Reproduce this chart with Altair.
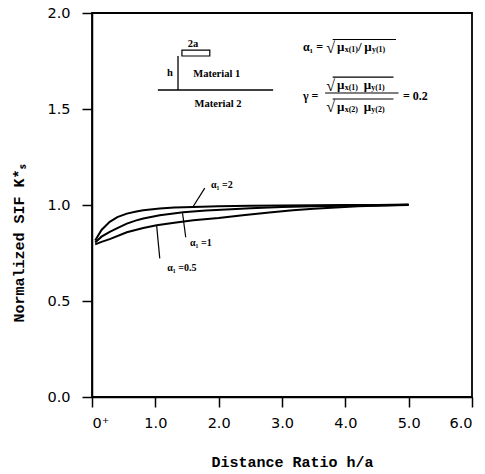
import altair as alt
import pandas as pd

# ---- curve data ----
x_a2 = [0.05, 0.15, 0.28, 0.40, 0.55, 0.70, 0.81, 1.07, 1.30, 1.60, 2.00, 2.50, 3.00, 3.50, 4.00, 4.50, 5.00]
y_a2 = [0.815, 0.870, 0.912, 0.937, 0.955, 0.966, 0.973, 0.982, 0.987, 0.990, 0.993, 0.996, 0.998, 0.999, 1.000, 1.000, 1.002]

x_a1 = [0.05, 0.15, 0.28, 0.40, 0.55, 0.70, 0.81, 1.07, 1.44, 1.80, 2.12, 2.50, 3.00, 3.50, 4.00, 4.50, 5.00]
y_a1 = [0.805, 0.835, 0.860, 0.880, 0.903, 0.920, 0.930, 0.947, 0.962, 0.971, 0.977, 0.983, 0.989, 0.993, 0.996, 0.998, 1.001]

x_a05 = [0.05, 0.15, 0.28, 0.55, 0.81, 1.02, 1.30, 1.60, 2.00, 2.38, 2.80, 3.17, 3.50, 4.20, 4.60, 5.00]
y_a05 = [0.795, 0.808, 0.822, 0.858, 0.880, 0.895, 0.908, 0.920, 0.932, 0.947, 0.961, 0.973, 0.980, 0.994, 0.998, 1.000]

x_ticks = [0, 1, 2, 3, 4, 5, 6]
y_ticks = [0.0, 0.5, 1.0, 1.5, 2.0]

rows = []
for name, xs_, ys_ in [("a2", x_a2, y_a2), ("a1", x_a1, y_a1), ("a05", x_a05, y_a05)]:
    for xv, yv in zip(xs_, ys_):
        rows.append({"series": name, "x": xv, "y": yv})
curves = pd.DataFrame(rows)

# ---- annotations ----
curve_labels = ["α₁ =2", "α₁ =1", "α₁ =0.5"]
curve_label_x = [2.05, 1.72, 1.42]
curve_label_y = [1.104, 0.80, 0.67]
leader_x1 = [1.78, 1.43, 1.02]
leader_y1 = [1.088, 0.957, 0.895]
leader_x2 = [1.59, 1.48, 1.07]
leader_y2 = [0.988, 0.832, 0.722]

# inset diagram texts
inset_text = ["2a", "h", "Material  1", "Material  2"]
inset_x = [1.595, 1.23, 1.97, 1.99]
inset_y = [1.839, 1.688, 1.682, 1.526]

# inset diagram lines (segments)
seg_x1 = [1.358, 1.04]
seg_y1 = [1.776, 1.599]
seg_x2 = [1.358, 2.86]
seg_y2 = [1.599, 1.599]

# formula pieces: main glyphs
f_text = ["α₁ =", "√", "μ", "/", "μ", "γ =", "√", "μ", "μ", "√", "μ", "μ", "= 0.2"]
f_x = [3.33, 3.70, 3.87, 4.20, 4.30, 3.33, 3.70, 3.87, 4.29, 3.70, 3.87, 4.29, 4.91]
f_y = [1.823, 1.818, 1.823, 1.823, 1.823, 1.568, 1.622, 1.625, 1.625, 1.508, 1.510, 1.510, 1.568]
f_size = [12, 16, 13, 13, 13, 12, 16, 13, 13, 16, 13, 13, 12]
# subscripts
s_text = ["x(1)", "y(1)", "x(1)", "y(1)", "x(2)", "y(2)"]
s_x = [3.99, 4.42, 3.99, 4.41, 3.99, 4.41]
s_y = [1.808, 1.808, 1.610, 1.610, 1.495, 1.495]
# overlines / fraction bar
o_x1 = [3.80, 3.80, 3.80, 3.68]
o_x2 = [4.80, 4.76, 4.76, 4.84]
o_y = [1.862, 1.666, 1.552, 1.583]

xs = alt.Scale(domain=[0, 6], nice=False, zero=False)
ys = alt.Scale(domain=[0, 2], nice=False, zero=False)

base = alt.Chart(curves)

lines = base.mark_line(color="black", strokeWidth=2).encode(
    x=alt.X("x:Q", scale=xs,
            axis=alt.Axis(values=x_ticks, title="Distance Ratio  h/a",
                          labelExpr="datum.value == 0 ? '0⁺' : format(datum.value, '.1f')",
                          labelPadding=9,
                          titleX=200, titleY=64, titleBaseline="middle", titleAlign="center")),
    y=alt.Y("y:Q", scale=ys,
            axis=alt.Axis(values=y_ticks, title="Normalized SIF  K*ₛ", format=".1f",
                          labelPadding=12,
                          titleX=-74, titleY=230, titleBaseline="middle", titleAlign="center")),
    detail="series:N",
)

lab_df = pd.DataFrame({"t": curve_labels, "x": curve_label_x, "y": curve_label_y})
labs = alt.Chart(lab_df).mark_text(font="Liberation Serif", fontWeight="bold", fontSize=10,
                                   color="black").encode(
    x=alt.X("x:Q", scale=xs), y=alt.Y("y:Q", scale=ys), text="t:N")

lead_df = pd.DataFrame({"x": leader_x1, "y": leader_y1, "x2": leader_x2, "y2": leader_y2})
leads = alt.Chart(lead_df).mark_rule(color="black", strokeWidth=1.2).encode(
    x=alt.X("x:Q", scale=xs), y=alt.Y("y:Q", scale=ys), x2="x2:Q", y2="y2:Q")

inset_df = pd.DataFrame({"t": inset_text, "x": inset_x, "y": inset_y})
inset = alt.Chart(inset_df).mark_text(font="Liberation Serif", fontWeight="bold", fontSize=10.5,
                                      color="black").encode(
    x=alt.X("x:Q", scale=xs), y=alt.Y("y:Q", scale=ys), text="t:N")

seg_df = pd.DataFrame({"x": seg_x1, "y": seg_y1, "x2": seg_x2, "y2": seg_y2})
segs = alt.Chart(seg_df).mark_rule(color="black", strokeWidth=1.3).encode(
    x=alt.X("x:Q", scale=xs), y=alt.Y("y:Q", scale=ys), x2="x2:Q", y2="y2:Q")

crack_df = pd.DataFrame({"x": [1.42], "x2": [1.86], "y": [1.807], "y2": [1.776]})
crack = alt.Chart(crack_df).mark_rect(fill="white", stroke="black", strokeWidth=1.2).encode(
    x=alt.X("x:Q", scale=xs), x2="x2:Q", y=alt.Y("y:Q", scale=ys), y2="y2:Q")

f_df = pd.DataFrame({"t": f_text, "x": f_x, "y": f_y, "s": f_size})
formula = alt.Chart(f_df).mark_text(font="Liberation Serif", fontWeight="bold", align="left",
                                    color="black").encode(
    x=alt.X("x:Q", scale=xs), y=alt.Y("y:Q", scale=ys), text="t:N",
    size=alt.Size("s:Q", scale=None, legend=None))

s_df = pd.DataFrame({"t": s_text, "x": s_x, "y": s_y})
subs = alt.Chart(s_df).mark_text(font="Liberation Serif", fontWeight="bold", fontSize=8,
                                 align="left", color="black").encode(
    x=alt.X("x:Q", scale=xs), y=alt.Y("y:Q", scale=ys), text="t:N")

o_df = pd.DataFrame({"x": o_x1, "x2": o_x2, "y": o_y})
overs = alt.Chart(o_df).mark_rule(color="black", strokeWidth=1.1).encode(
    x=alt.X("x:Q", scale=xs), x2="x2:Q", y=alt.Y("y:Q", scale=ys))

chart = alt.layer(lines, leads, labs, segs, crack, inset, formula, subs, overs).properties(
    width=380, height=384,
    padding={"left": 92, "top": 13, "right": 13, "bottom": 77},
    autosize=alt.AutoSizeParams(type="none"),
    background="white",
).configure_view(stroke="black", strokeWidth=1.8).configure_axis(
    grid=False, domainColor="black", domainWidth=1.5, tickColor="black", tickWidth=1.5,
    tickSize=10, labelFont="DejaVu Sans", labelFontSize=14.5, labelColor="black",
    titleFont="Liberation Mono", titleFontSize=15, titleFontWeight="bold",
    titleColor="black",
)

chart.save("out.html", embed_options={"renderer": "svg", "actions": False})
